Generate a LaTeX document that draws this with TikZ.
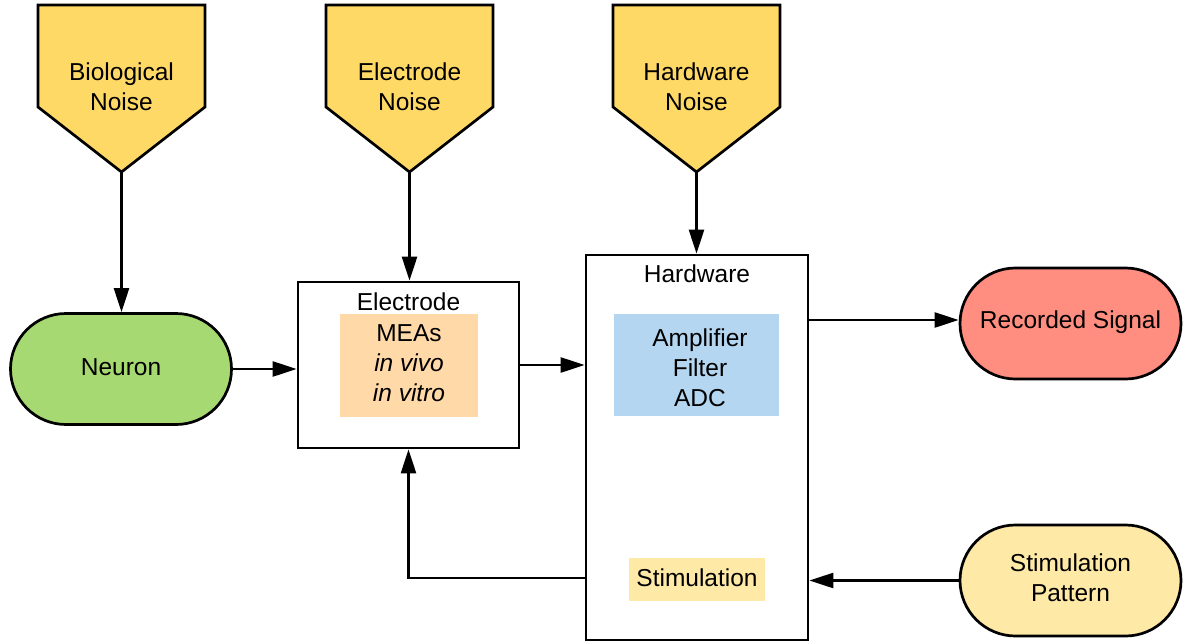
\documentclass[tikz,border=0pt]{standalone}
\usepackage{fontspec}
\setmainfont{Liberation Sans}
\usetikzlibrary{shapes.misc,arrows.meta,calc}
\definecolor{noisey}{RGB}{255,217,102}
\definecolor{neugreen}{RGB}{166,217,114}
\definecolor{recred}{RGB}{255,141,128}
\definecolor{meaorange}{RGB}{255,217,168}
\definecolor{hwblue}{RGB}{180,214,240}
\definecolor{stimy}{RGB}{255,233,166}
\begin{document}
\begin{tikzpicture}[x=1pt,y=-1pt,
  every node/.style={font=\fontsize{24.5}{30}\selectfont, text=black, inner sep=0pt},
  box/.style={draw=black, line width=2.7pt, fill=white},
  stad/.style={rounded rectangle, draw=black, line width=2.7pt, minimum width=221pt, minimum height=111pt, align=center},
  arr/.style={line width=2.4pt, -{Triangle[length=24pt,width=15pt]}},
  noise/.style={draw=black, line width=2.7pt, fill=noisey, line join=miter}]
\useasboundingbox (0,0) rectangle (1184,643);
% noise sources
\draw[noise] (38,5) -- (205,5) -- (205,107) -- (121.5,172) -- (38,107) -- cycle;
\coordinate (bnt) at (121.5,172);
\node[align=center] (bn) at (121.5,87) {Biological\\Noise};
\draw[noise] (326,5) -- (493,5) -- (493,107) -- (409.5,172) -- (326,107) -- cycle;
\coordinate (ent) at (409.5,172);
\node[align=center] (en) at (409.5,87) {Electrode\\Noise};
\draw[noise] (613,5) -- (780,5) -- (780,107) -- (696.5,172) -- (613,107) -- cycle;
\coordinate (hnt) at (696.5,172);
\node[align=center] (hn) at (696.5,87) {Hardware\\Noise};
% neuron
\node[stad, fill=neugreen] (neu) at (121,369) {};
\node (neut) at (121,367) {Neuron};
% electrode
\node[box, minimum width=221pt, minimum height=166pt] (el) at (408.5,365) {};
\node (ell) at (408.5,302) {Electrode};
\node[fill=meaorange, minimum width=138pt, minimum height=103pt] (mea) at (409,365.5) {};
\node[align=center] (meat) at (409,363) {MEAs\\\itshape in vivo\\\itshape in vitro};
% hardware
\node[box, minimum width=222pt, minimum height=385pt] (hw) at (697,447.5) {};
\node (hwl) at (697,274) {Hardware};
\node[fill=hwblue, minimum width=165pt, minimum height=102pt] (amp) at (696.5,365) {};
\node[align=center] (ampt) at (700,368) {Amplifier\\Filter\\ADC};
\node[fill=stimy, minimum width=136pt, minimum height=43pt] (stim) at (697,579.5) {};
\node (stimt) at (697,578) {Stimulation};
% outputs
\node[stad, fill=recred] (rec) at (1070.5,323.5) {};
\node (rect) at (1070.5,322) {Recorded Signal};
\node[stad, fill=stimy] (stp) at (1070.5,580.5) {};
\node[align=center] (stpt) at (1070.5,577.5) {Stimulation\\Pattern};
% connectors
\coordinate (ry) at (0,320);
\coordinate (sy) at (0,578);
\draw[arr] (bnt) -- (bnt |- neu.north);
\draw[arr] (ent) -- (ent |- el.north);
\draw[arr] (hnt) -- (hnt |- hw.north);
\draw[arr] (neu.east) -- (neu.east -| el.west);
\draw[arr] (el.east) -- (el.east -| hw.west);
\draw[arr] (hw.east |- ry) -- (rec.west |- ry);
\draw[arr] (stp.west) -- (stp.west -| hw.east);
\draw[arr] (hw.west |- sy) -| (el.south);
\end{tikzpicture}
\end{document}
